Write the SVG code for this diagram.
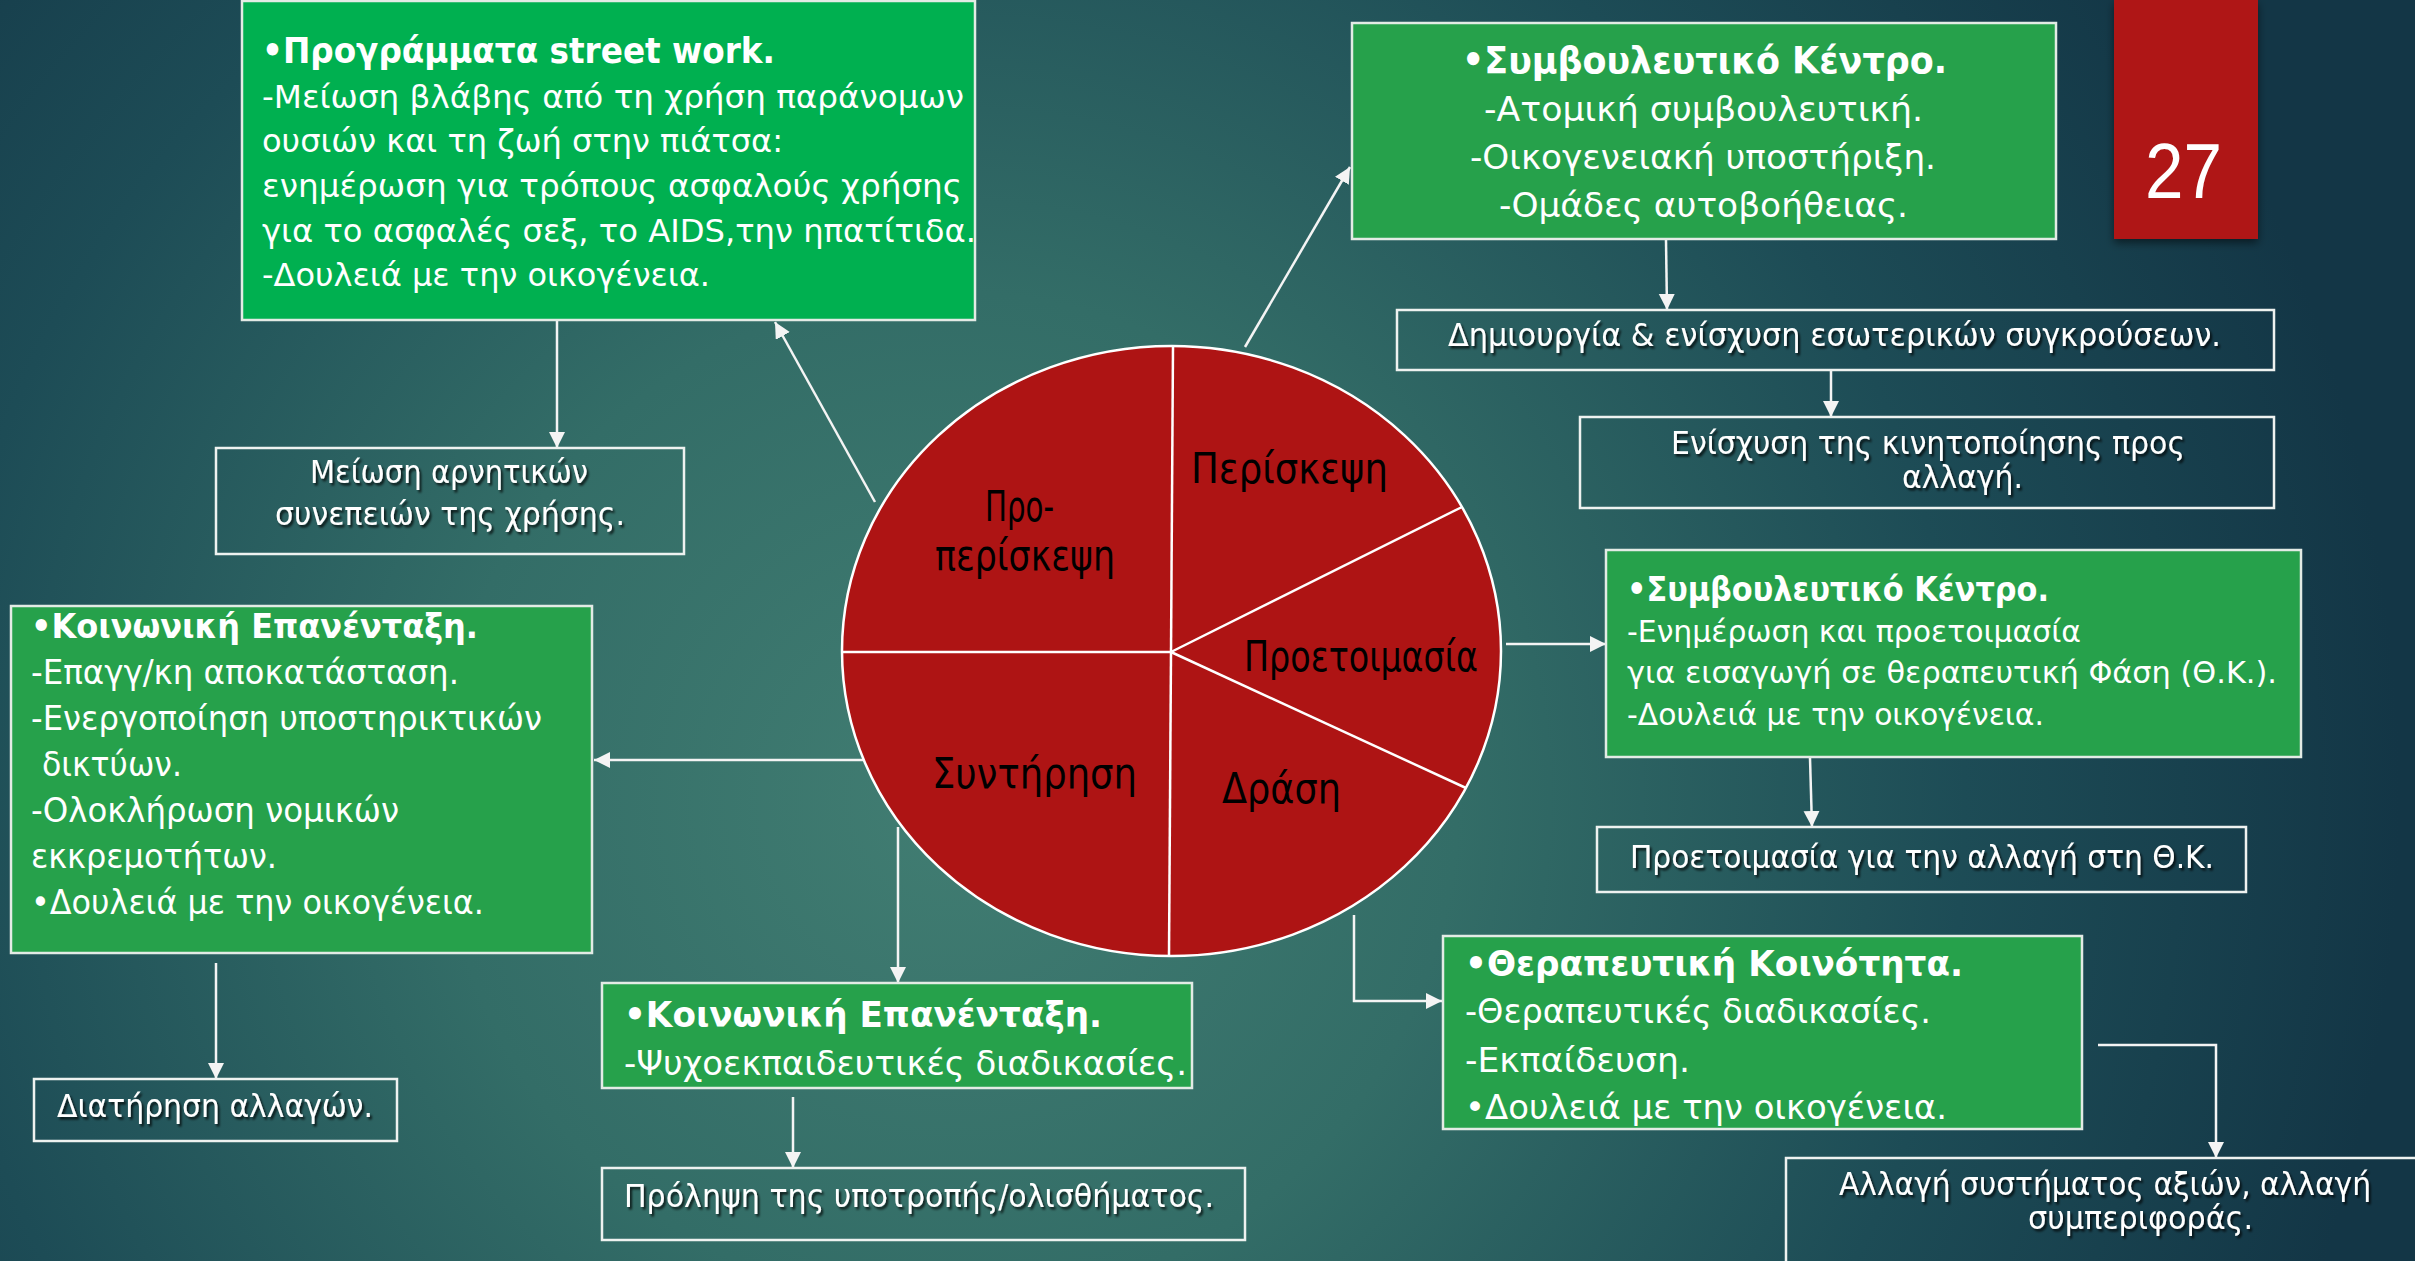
<svg xmlns="http://www.w3.org/2000/svg" width="2415" height="1261" viewBox="0 0 2415 1261">
<defs>
<radialGradient id="bg" gradientUnits="userSpaceOnUse" cx="950" cy="800" r="1450">
<stop offset="0" stop-color="#417d72"/>
<stop offset="0.35" stop-color="#336d67"/>
<stop offset="0.7" stop-color="#1d4c56"/>
<stop offset="1" stop-color="#133646"/>
</radialGradient>
<filter id="ts" x="-5%" y="-30%" width="110%" height="160%">
<feDropShadow dx="2" dy="2.5" stdDeviation="1" flood-color="#000" flood-opacity="0.75"/>
</filter>
<filter id="bs" x="-20%" y="-10%" width="140%" height="130%">
<feDropShadow dx="0" dy="4" stdDeviation="4" flood-color="#000" flood-opacity="0.5"/>
</filter>
<marker id="ah" markerUnits="userSpaceOnUse" markerWidth="18" markerHeight="18" refX="16" refY="8" orient="auto">
<path d="M0,0 L16,8 L0,16 z" fill="#f4f4f4"/>
</marker>
<style>
.gbox{fill:#26a14b;stroke:#e3ebe5;stroke-width:2.5}
.gbox1{fill:#00b050}
.obox{fill:none;stroke:#eef2f0;stroke-width:2.5}
.t{font-family:"DejaVu Sans","Liberation Sans",sans-serif;fill:#fff}
.b{font-weight:bold}
.sh{filter:url(#ts)}
.f30{font-size:30px}
.f32{font-size:32px}
.f33{font-size:33px}
.f34{font-size:34px}
.f36{font-size:36px}
.f38{font-size:38px}
.pl{font-family:"DejaVu Sans","Liberation Sans",sans-serif;fill:#000;font-size:42px}
.conn{stroke:#f4f4f4;stroke-width:2.5;fill:none;marker-end:url(#ah)}
.div{stroke:#fff;stroke-width:2.5;fill:none}
</style>
</defs>
<rect x="0" y="0" width="2415" height="1261" fill="url(#bg)"/>

<g id="page-number">
<rect x="2114" y="0" width="144" height="239" fill="#af1515" filter="url(#bs)"/>
<text x="2145" y="198" font-family="Liberation Sans, sans-serif" font-size="77" fill="#fff" textLength="77" lengthAdjust="spacingAndGlyphs">27</text>
</g>

<g id="connectors">
<line class="conn" x1="557" y1="321" x2="557" y2="448"/>
<line class="conn" x1="875" y1="502" x2="775" y2="322"/>
<line class="conn" x1="1245" y1="347" x2="1350" y2="167"/>
<line class="conn" x1="1666" y1="240" x2="1667" y2="310"/>
<line class="conn" x1="1831" y1="371" x2="1831" y2="417"/>
<line class="conn" x1="1506" y1="644" x2="1606" y2="644"/>
<line class="conn" x1="1810" y1="758" x2="1812" y2="827"/>
<polyline class="conn" points="1354,915 1354,1001 1442,1001"/>
<polyline class="conn" points="2098,1045 2216,1045 2216,1158"/>
<line class="conn" x1="870" y1="760" x2="594" y2="760"/>
<line class="conn" x1="898" y1="827" x2="898" y2="983"/>
<line class="conn" x1="216" y1="963" x2="216" y2="1079"/>
<line class="conn" x1="793" y1="1097" x2="793" y2="1168"/>
</g>

<g id="pie">
<ellipse cx="1171.5" cy="651" rx="329.5" ry="305" fill="#ae1414" stroke="#fff" stroke-width="2.5"/>
<line class="div" x1="1171" y1="652" x2="1173" y2="346"/>
<line class="div" x1="1171" y1="652" x2="842" y2="652"/>
<line class="div" x1="1171" y1="652" x2="1169" y2="956"/>
<line class="div" x1="1171" y1="652" x2="1462" y2="507"/>
<line class="div" x1="1171" y1="652" x2="1466" y2="788"/>
<text class="pl" x="985" y="521" textLength="69" lengthAdjust="spacingAndGlyphs">Προ-</text>
<text class="pl" x="935" y="570" textLength="180" lengthAdjust="spacingAndGlyphs">περίσκεψη</text>
<text class="pl" x="1191" y="483" textLength="197" lengthAdjust="spacingAndGlyphs">Περίσκεψη</text>
<text class="pl" x="1244" y="671" textLength="234" lengthAdjust="spacingAndGlyphs">Προετοιμασία</text>
<text class="pl" x="932" y="788" textLength="205" lengthAdjust="spacingAndGlyphs">Συντήρηση</text>
<text class="pl" x="1222" y="803" textLength="119" lengthAdjust="spacingAndGlyphs">Δράση</text>
</g>

<g id="street-work">
<rect class="gbox gbox1" x="242" y="1" width="733" height="319"/>
<text class="t b f36" x="262" y="63" textLength="513" lengthAdjust="spacingAndGlyphs">•Προγράμματα street work.</text>
<text class="t f32" x="262" y="108" textLength="702" lengthAdjust="spacingAndGlyphs">-Μείωση βλάβης από τη χρήση παράνομων</text>
<text class="t f32" x="262" y="152" textLength="521" lengthAdjust="spacingAndGlyphs">ουσιών και τη ζωή στην πιάτσα:</text>
<text class="t f32" x="262" y="197" textLength="700" lengthAdjust="spacingAndGlyphs">ενημέρωση για τρόπους ασφαλούς χρήσης</text>
<text class="t f32" x="262" y="242" textLength="714" lengthAdjust="spacingAndGlyphs">για το ασφαλές σεξ, το AIDS,την ηπατίτιδα.</text>
<text class="t f32" x="262" y="286" textLength="448" lengthAdjust="spacingAndGlyphs">-Δουλειά με την οικογένεια.</text>
</g>

<g id="harm-reduction">
<rect class="obox" x="216" y="448" width="468" height="106"/>
<text class="t sh f32" x="310" y="483" textLength="278" lengthAdjust="spacingAndGlyphs">Μείωση αρνητικών</text>
<text class="t sh f32" x="275" y="525" textLength="350" lengthAdjust="spacingAndGlyphs">συνεπειών της χρήσης.</text>
</g>

<g id="counseling-top">
<rect class="gbox" x="1352" y="23" width="704" height="216"/>
<text class="t b f38" x="1462" y="73" textLength="485" lengthAdjust="spacingAndGlyphs">•Συμβουλευτικό Κέντρο.</text>
<text class="t f34" x="1484" y="121" textLength="439" lengthAdjust="spacingAndGlyphs">-Ατομική συμβουλευτική.</text>
<text class="t f34" x="1470" y="169" textLength="466" lengthAdjust="spacingAndGlyphs">-Οικογενειακή υποστήριξη.</text>
<text class="t f34" x="1499" y="217" textLength="409" lengthAdjust="spacingAndGlyphs">-Ομάδες αυτοβοήθειας.</text>
</g>

<g id="conflicts">
<rect class="obox" x="1397" y="310" width="877" height="60"/>
<text class="t sh f32" x="1448" y="346" textLength="773" lengthAdjust="spacingAndGlyphs">Δημιουργία &amp; ενίσχυση εσωτερικών συγκρούσεων.</text>
</g>

<g id="motivation">
<rect class="obox" x="1580" y="417" width="694" height="91"/>
<text class="t sh f32" x="1671" y="454" textLength="514" lengthAdjust="spacingAndGlyphs">Ενίσχυση της κινητοποίησης προς</text>
<text class="t sh f32" x="1902" y="488" textLength="121" lengthAdjust="spacingAndGlyphs">αλλαγή.</text>
</g>

<g id="counseling-mid">
<rect class="gbox" x="1606" y="550" width="695" height="207"/>
<text class="t b f33" x="1627" y="601" textLength="422" lengthAdjust="spacingAndGlyphs">•Συμβουλευτικό Κέντρο.</text>
<text class="t f30" x="1627" y="642" textLength="454" lengthAdjust="spacingAndGlyphs">-Ενημέρωση και προετοιμασία</text>
<text class="t f30" x="1627" y="683" textLength="650" lengthAdjust="spacingAndGlyphs">για εισαγωγή σε θεραπευτική Φάση (Θ.Κ.).</text>
<text class="t f30" x="1627" y="725" textLength="417" lengthAdjust="spacingAndGlyphs">-Δουλειά με την οικογένεια.</text>
</g>

<g id="prep-tc">
<rect class="obox" x="1597" y="827" width="649" height="65"/>
<text class="t sh f32" x="1630" y="868" textLength="584" lengthAdjust="spacingAndGlyphs">Προετοιμασία για την αλλαγή στη Θ.Κ.</text>
</g>

<g id="therapeutic-community">
<rect class="gbox" x="1443" y="936" width="639" height="193"/>
<text class="t b f36" x="1465" y="976" textLength="498" lengthAdjust="spacingAndGlyphs">•Θεραπευτική Κοινότητα.</text>
<text class="t f34" x="1465" y="1023" textLength="466" lengthAdjust="spacingAndGlyphs">-Θεραπευτικές διαδικασίες.</text>
<text class="t f34" x="1465" y="1072" textLength="225" lengthAdjust="spacingAndGlyphs">-Εκπαίδευση.</text>
<text class="t f34" x="1465" y="1119" textLength="482" lengthAdjust="spacingAndGlyphs">•Δουλειά με την οικογένεια.</text>
</g>

<g id="values-change">
<rect class="obox" x="1786" y="1158" width="700" height="200"/>
<text class="t sh f32" x="1839" y="1195" textLength="532" lengthAdjust="spacingAndGlyphs">Αλλαγή συστήματος αξιών, αλλαγή</text>
<text class="t sh f32" x="2028" y="1229" textLength="225" lengthAdjust="spacingAndGlyphs">συμπεριφοράς.</text>
</g>

<g id="reintegration-left">
<rect class="gbox" x="11" y="606" width="581" height="347"/>
<text class="t b f34" x="31" y="638" textLength="447" lengthAdjust="spacingAndGlyphs">•Κοινωνική Επανένταξη.</text>
<text class="t f33" x="31" y="684" textLength="428" lengthAdjust="spacingAndGlyphs">-Επαγγ/κη αποκατάσταση.</text>
<text class="t f33" x="31" y="730" textLength="511" lengthAdjust="spacingAndGlyphs">-Ενεργοποίηση υποστηρικτικών</text>
<text class="t f33" x="42" y="776" textLength="140" lengthAdjust="spacingAndGlyphs">δικτύων.</text>
<text class="t f33" x="31" y="822" textLength="368" lengthAdjust="spacingAndGlyphs">-Ολοκλήρωση νομικών</text>
<text class="t f33" x="31" y="868" textLength="246" lengthAdjust="spacingAndGlyphs">εκκρεμοτήτων.</text>
<text class="t f33" x="31" y="914" textLength="453" lengthAdjust="spacingAndGlyphs">•Δουλειά με την οικογένεια.</text>
</g>

<g id="maintain-change">
<rect class="obox" x="34" y="1079" width="363" height="62"/>
<text class="t sh f32" x="57" y="1117" textLength="316" lengthAdjust="spacingAndGlyphs">Διατήρηση αλλαγών.</text>
</g>

<g id="reintegration-bottom">
<rect class="gbox" x="602" y="983" width="590" height="105"/>
<text class="t b f36" x="624" y="1027" textLength="478" lengthAdjust="spacingAndGlyphs">•Κοινωνική Επανένταξη.</text>
<text class="t f34" x="624" y="1075" textLength="563" lengthAdjust="spacingAndGlyphs">-Ψυχοεκπαιδευτικές διαδικασίες.</text>
</g>

<g id="relapse-prevention">
<rect class="obox" x="602" y="1168" width="643" height="72"/>
<text class="t sh f32" x="624" y="1207" textLength="590" lengthAdjust="spacingAndGlyphs">Πρόληψη της υποτροπής/ολισθήματος.</text>
</g>
</svg>
